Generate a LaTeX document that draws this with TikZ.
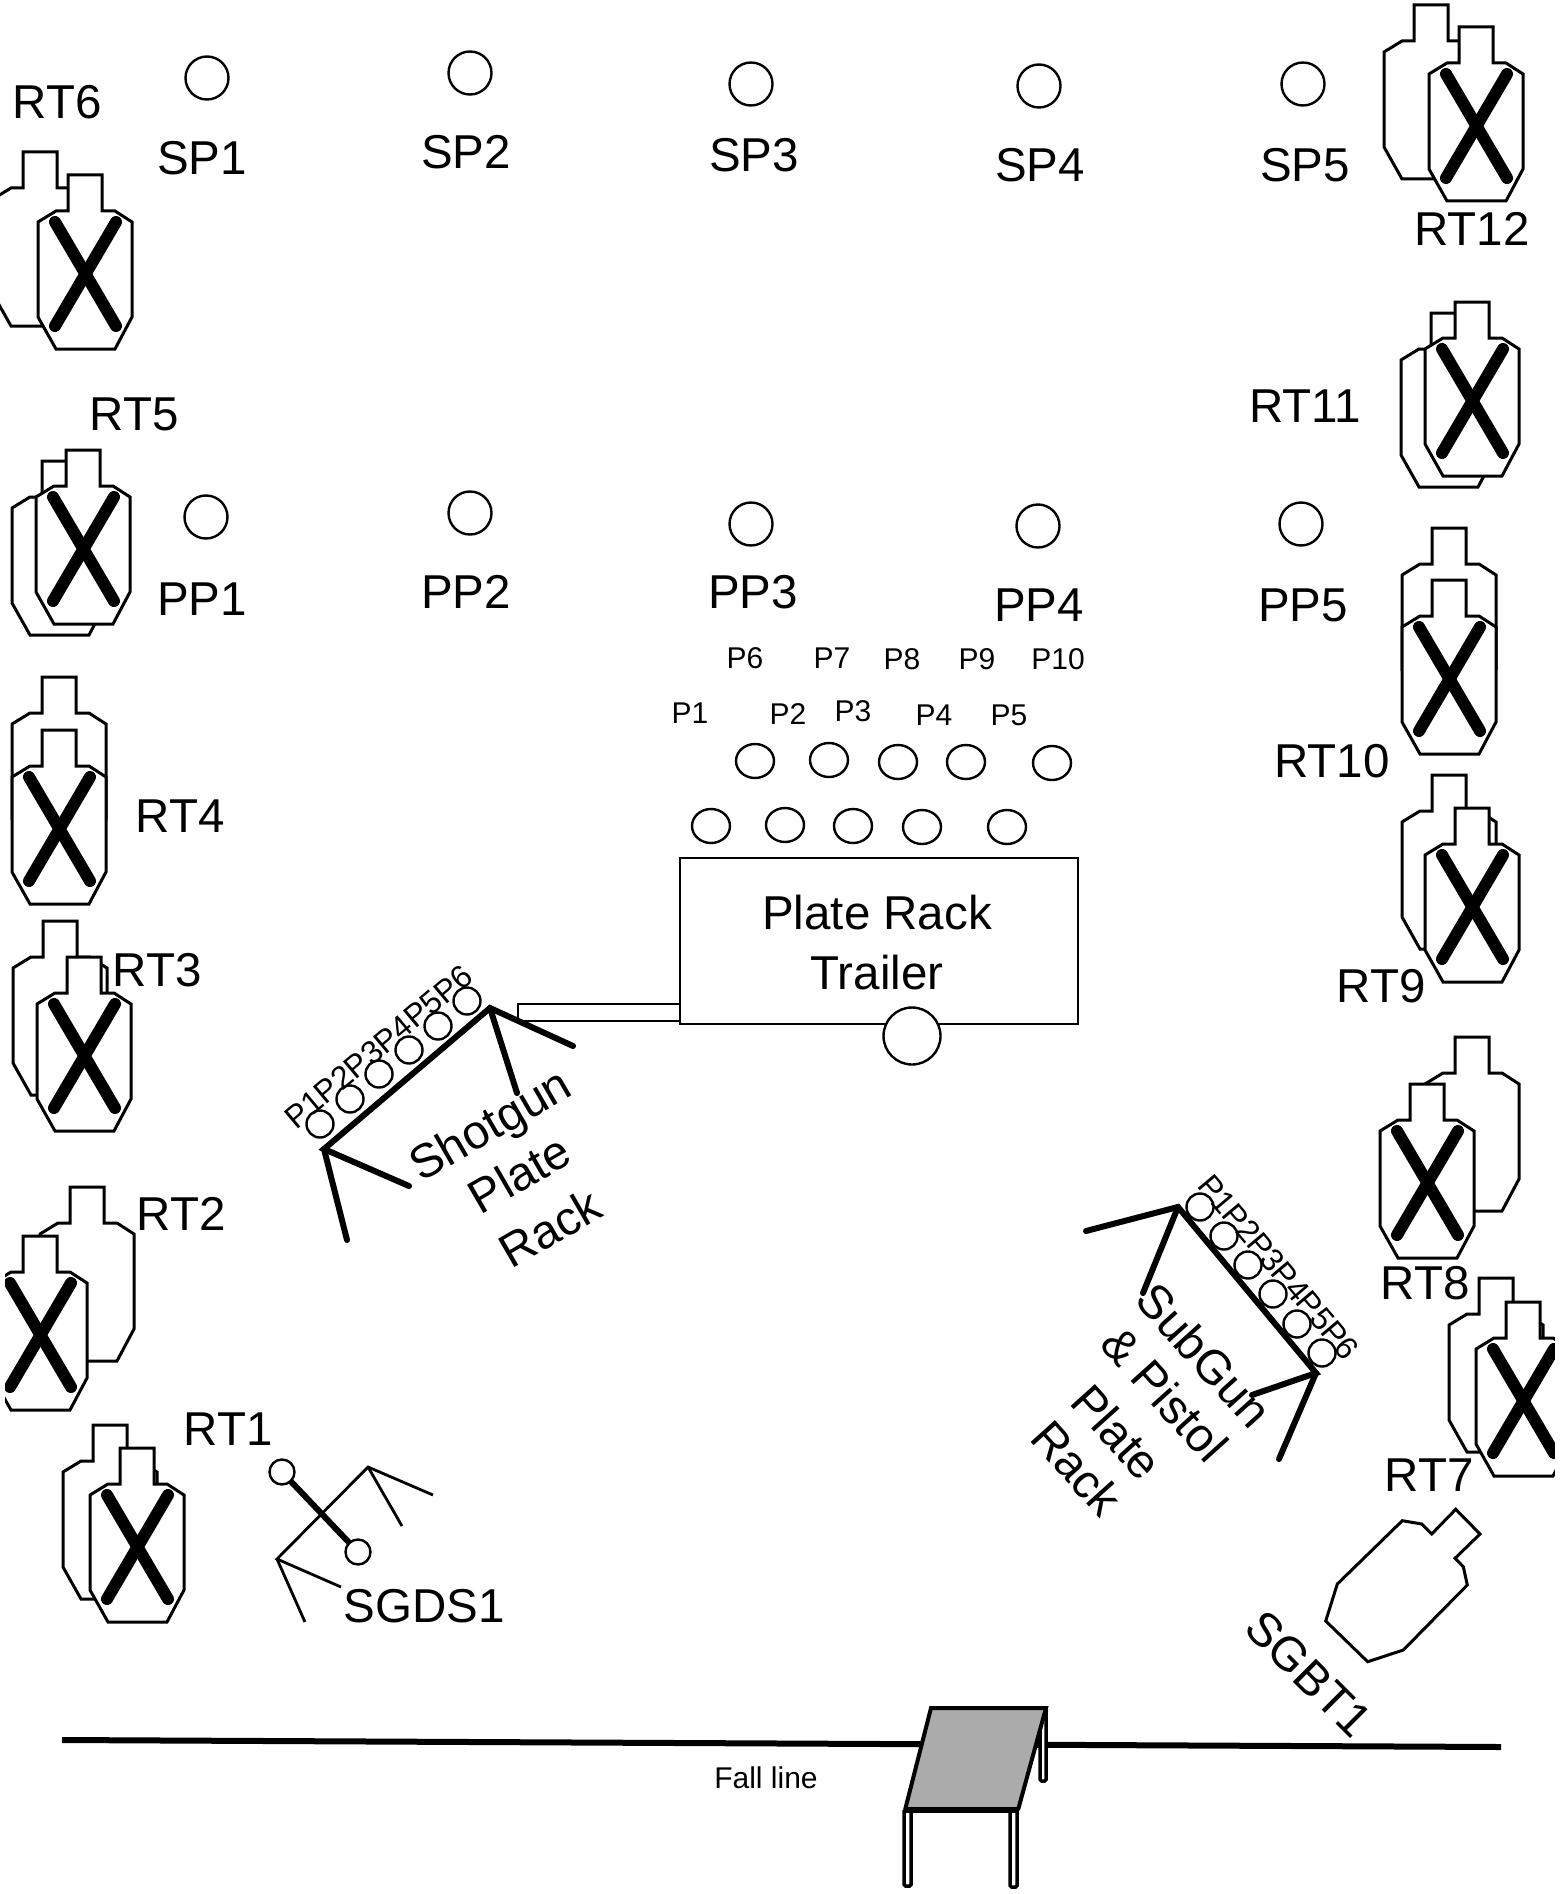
\documentclass[tikz,border=0pt]{standalone}
\usepackage{fontspec}
\setmainfont{Liberation Sans}
\tikzset{
  outl/.style={draw=black,line width=3pt,line join=miter,fill=white},
  thickl/.style={draw=black,line width=6pt,line cap=round},
  thinl/.style={draw=black,line width=2.8pt},
  spot/.style={draw=black,line width=2.4pt,fill=white},
  lbl/.style={font=\fontsize{47.5}{47.5}\selectfont,anchor=base,inner sep=0pt},
  rlbl/.style={font=\fontsize{47.5}{47.5}\selectfont,anchor=center,inner sep=0pt},
  small/.style={font=\fontsize{30}{30}\selectfont,anchor=base,inner sep=0pt},
  plab/.style={font=\fontsize{32}{32}\selectfont,anchor=center,inner sep=0pt},
  bodyshape/.pic={
    \path[outl] (-17,0) -- (17,0) -- (17,36) -- (30,36) -- (47,47) -- (47,142) -- (30,174)
      -- (-29,174) -- (-47,142) -- (-47,47) -- (-29,36) -- (-17,36) -- cycle;
  },
  crossed/.pic={
    \path[outl] (-17,0) -- (17,0) -- (17,36) -- (30,36) -- (47,47) -- (47,142) -- (30,174)
      -- (-29,174) -- (-47,142) -- (-47,47) -- (-29,36) -- (-17,36) -- cycle;
    \draw[line width=12pt,line cap=round] (-30,47) -- (31,151);
    \draw[line width=12pt,line cap=round] (31,47) -- (-30,151);
  }
}
\begin{document}
\begin{tikzpicture}[x=1pt,y=-1pt]
\useasboundingbox (0,0) rectangle (1567,1894);
\fill[white] (0,0) rectangle (1567,1894);

% targets: back, then front
\pic at (40,152) {bodyshape};   \pic at (85,175) {crossed};     % RT6
\pic at (59,461) {bodyshape};   \pic at (83,450) {crossed};     % RT5
\pic at (59,677) {bodyshape};   \pic at (59,730) {crossed};     % RT4
\pic at (60,921) {bodyshape};   \pic at (84,957) {crossed};     % RT3
\pic at (87,1187) {bodyshape};  \pic at (40,1236) {crossed};    % RT2
\pic at (110,1425) {bodyshape}; \pic at (137,1448) {crossed};   % RT1
\pic at (1431,5) {bodyshape};   \pic at (1476,27) {crossed};    % RT12
\pic at (1448,313) {bodyshape}; \pic at (1472,302) {crossed};   % RT11
\pic at (1449,528) {bodyshape}; \pic at (1449,580) {crossed};   % RT10
\pic at (1449,775) {bodyshape}; \pic at (1472,808) {crossed};   % RT9
\pic at (1472,1037) {bodyshape};\pic at (1427,1084) {crossed};  % RT8
\pic at (1496,1278) {bodyshape};\pic at (1523,1302) {crossed};  % RT7
\fill[white] (1555,1290) rectangle (1590,1490);
\fill[white] (-20,1225) rectangle (5,1425);

% SGBT1 target
\path[outl] (1455.7,1509.3) -- (1480,1534) -- (1455,1558.3) -- (1463.3,1566.7) -- (1467.3,1585)
  -- (1403.3,1650) -- (1367.7,1661.7) -- (1325.7,1621) -- (1337.3,1584) -- (1402.3,1520.7)
  -- (1421.7,1524) -- (1431.7,1534) -- cycle;

% spots
\foreach \x/\y in {207/78,470/73,751/84,1039/86,1303/84,206/517,470/513,751/524,1038/526,1301/524}
  \draw[spot] (\x,\y) circle[radius=21.5];

% trailer plates
\foreach \x/\y in {755/761,829/760,898/762,966/762,1052/763,711/826,785/825,853/826,922/827,1007/827}
  \draw[spot] (\x,\y) ellipse[x radius=19,y radius=17];

% trailer
\draw[line width=2.4pt] (518,1004) rectangle (680,1021);
\draw[thinl] (680,858) rectangle (1078,1024);
\draw[spot] (912,1036) circle[radius=28.5];

% shotgun rack
\draw[thickl] (573,1046) -- (490,1008) -- (324,1149) -- (409,1186);
\draw[thickl] (517,1093) -- (490,1008);
\draw[thickl] (347,1240) -- (324,1149);
\foreach \x/\y in {320/1124,350/1099,379/1074,409/1050,438/1026,467/1001}
  \draw[spot] (\x,\y) circle[radius=13.5];

% subgun rack
\draw[thickl] (1086,1231) -- (1178,1207) -- (1316,1373) -- (1252,1395);
\draw[thickl] (1143,1293) -- (1178,1207);
\draw[thickl] (1279,1459) -- (1316,1373);
\foreach \x/\y in {1200/1207,1224/1236,1248/1265,1273/1294,1297/1324,1322/1353}
  \draw[spot] (\x,\y) circle[radius=13.5];

% SGDS1 rack and swinger
\draw[thinl] (433,1495) -- (368,1467) -- (277,1559) -- (341,1587);
\draw[thinl] (402,1526) -- (368,1467);
\draw[thinl] (305,1622) -- (277,1559);
\draw[line width=6pt] (282,1472) -- (358,1552);
\draw[spot] (282,1472) circle[radius=12.5];
\draw[spot] (358,1552) circle[radius=12.5];

% fall line
\draw[line width=6pt] (62,1740) -- (1501,1747);

% table
\draw[line width=3.5pt,fill=white,rounded corners=1.5pt] (1040,1708) -- (1040,1781) -- (1046,1781) -- (1046,1708);
\draw[line width=3.5pt,fill=white,rounded corners=1.5pt] (904,1810) -- (904,1886) -- (911,1886) -- (911,1810);
\draw[line width=3.5pt,fill=white,rounded corners=1.5pt] (1010,1810) -- (1010,1887) -- (1017,1887) -- (1017,1810);
\path[fill=black!33] (931,1708) -- (1046,1708) -- (1018,1810) -- (905,1810) -- cycle;
\draw[line width=4pt,line join=miter] (905,1810) -- (931,1708) -- (1046,1708) -- (1018,1810);
\draw[line width=6pt] (904,1810) -- (1019,1810);

% labels
\node[lbl] (sp1) at (202,175) {SP1};
\node[lbl] (sp2) at (466,169) {SP2};
\node[lbl] (sp3) at (754,172) {SP3};
\node[lbl] (sp4) at (1040,182) {SP4};
\node[lbl] (sp5) at (1305,182) {SP5};
\node[lbl] (pp1) at (202,615) {PP1};
\node[lbl] (pp2) at (466,608) {PP2};
\node[lbl] (pp3) at (753,608) {PP3};
\node[lbl] (pp4) at (1039,621) {PP4};
\node[lbl] (pp5) at (1303,621) {PP5};
\node[lbl] (rt6) at (57,119) {RT6};
\node[lbl] (rt5) at (134,430) {RT5};
\node[lbl] (rt4) at (180,832) {RT4};
\node[lbl] (rt3) at (157,986) {RT3};
\node[lbl] (rt2) at (181,1230) {RT2};
\node[lbl] (rt1) at (228,1445) {RT1};
\node[lbl] (rt12) at (1472,246) {RT12};
\node[lbl] (rt11) at (1305,422) {RT11};
\node[lbl] (rt10) at (1332,777) {RT10};
\node[lbl] (rt9) at (1381,1002) {RT9};
\node[lbl] (rt8) at (1425,1299) {RT8};
\node[lbl] (rt7) at (1429,1491) {RT7};
\node[lbl] (sgds) at (424,1622) {SGDS1};
\node[lbl] (prt1) at (877,929) {Plate Rack};
\node[lbl] (prt2) at (877,989) {Trailer};
\node[rlbl,rotate=-45] (sgbt) at (1309,1674) {SGBT1};
\node[small] (fall) at (766,1788) {Fall line};

\node[small] (tp6) at (745,668) {P6};
\node[small] (tp7) at (832,668) {P7};
\node[small] (tp8) at (902,669) {P8};
\node[small] (tp9) at (977,669) {P9};
\node[small] (tp10) at (1058,669) {P10};
\node[small] (tp1) at (690,723) {P1};
\node[small] (tp2) at (788,724) {P2};
\node[small] (tp3) at (853,721) {P3};
\node[small] (tp4) at (934,725) {P4};
\node[small] (tp5) at (1009,725) {P5};

% rack plate labels
\foreach \n/\x/\y in {1/304/1109,2/333.8/1084,3/363.6/1059,4/393.4/1034,5/423.2/1009,6/453/984}
  \node[plab,rotate=40] (sgp\n) at (\x,\y) {P\n};
\foreach \n/\x/\y in {1/1217/1194,2/1241.6/1223.2,3/1266.2/1252.4,4/1290.8/1281.6,5/1315.4/1310.8,6/1340/1340}
  \node[plab,rotate=-50] (smp\n) at (\x,\y) {P\n};

% rack titles
\node[rlbl,rotate=30] (s1) at (492,1128) {Shotgun};
\node[rlbl,rotate=30] (s2) at (519,1174) {Plate};
\node[rlbl,rotate=30] (s3) at (550,1228) {Rack};
\node[rlbl,rotate=-48] (g1) at (1204,1355) {SubGun};
\node[rlbl,rotate=-48] (g2) at (1165,1394) {\& Pistol};
\node[rlbl,rotate=-48] (g3) at (1117,1432) {Plate};
\node[rlbl,rotate=-48] (g4) at (1077,1468) {Rack};
\end{tikzpicture}
\end{document}
